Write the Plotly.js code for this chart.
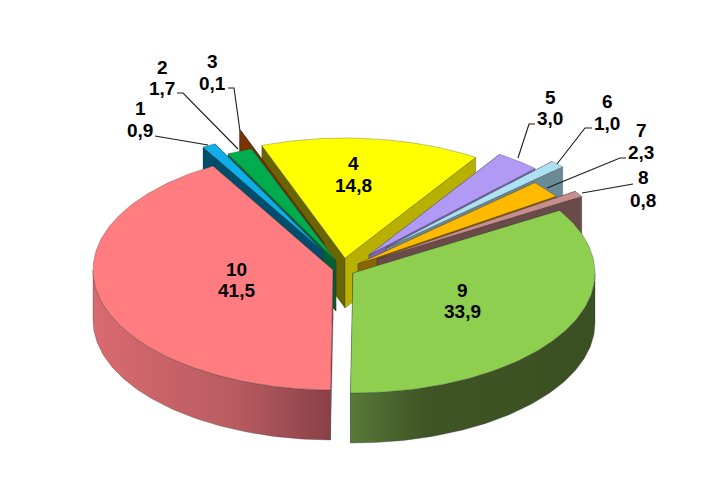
<!DOCTYPE html>
<html><head><meta charset="utf-8">
<script src="https://cdn.plot.ly/plotly-3.0.1.min.js"></script>
<style>html,body{margin:0;padding:0;background:#fff}#c{width:721px;height:484px}</style>
</head><body><div id="c"></div>
<script>
// ---- data ----
var sliceNames = ['1','2','3','4','5','6','7','8','9','10'];
var sliceValues = [0.9,1.7,0.1,14.8,3.0,1.0,2.3,0.8,33.9,41.5];
var valueLabels = ['0,9','1,7','0,1','14,8','3,0','1,0','2,3','0,8','33,9','41,5'];
// ---- styling ----
var topColors   = ['#10AEE8','#00AC4E','#7F3300','#FFFF00','#B09AF5','#AEE2F2','#FFBA00','#C78F8D','#8FCF50','#FF7C80'];
var startWalls  = ['#004E6B','#005F33','#7F3300','#6A6500','#6E5CA8','#6A8A98','#8C6600','#6B4A4A','#44602A','#A04C50'];
var endWalls    = ['#004E6B','#005F33','#7F3300','#B8B000','#7A64B8','#6A8A98','#8C6600','#6B4A4A','#44602A','#A04C50'];
var apexX = [323,336,324,345,369,386,358,377,353,333];
var apexY = [251,261,243,258,255,248,264,259,273,270];
var radiusX = [240,240,240,240,240,240,240,240,242,240];
var nameX  = [140,162,212,353,550,607,641,643,462,236];
var nameY  = [108,67,61,163,97,101,130,177,290,269];
var valueX = [140,162,212,353,550,607,641,643,462,236];
var valueY = [130,88,83,185,118,123,152,200,311,290];
var paintOrder = [3,2,1,0,9,4,5,6,7,8];
var rimGradients = {
  8:[[0,'#587A38'],[0.3,'#3F5525'],[1,'#3B5022']],
  9:[[0,'#D96A70'],[0.6,'#B85C60'],[1,'#8A4048']]
};
var leaders = [
  {x:[155,208],y:[136,145]},
  {x:[177,183,238],y:[93,93,149]},
  {x:[228,234,240],y:[88,88,131]},
  {x:[535,529,518],y:[124,124,158]},
  {x:[592,585,557],y:[128,128,164]},
  {x:[626,620,547],y:[158,158,188]},
  {x:[633,582],y:[184,193]}
];
var RY = 120, DEPTH = 50;
var traces = [];
function px(i,a){return apexX[i]+radiusX[i]*Math.sin(a*Math.PI/180);}
function py(i,a){return apexY[i]-RY*Math.cos(a*Math.PI/180);}
var edge = {width:0.5,color:'rgba(50,50,50,0.6)'};
function poly(xs,ys,col,grad){
  var t={type:'scatter',mode:'lines',x:xs.concat([xs[0]]),y:ys.concat([ys[0]]),fill:'toself',
    line:edge,hoverinfo:'skip',showlegend:false};
  if(grad) t.fillgradient=grad; else t.fillcolor=col;
  traces.push(t);
}
var total = sliceValues.reduce(function(a,b){return a+b;},0);
var starts=[],cum=330;
sliceValues.forEach(function(v){starts.push(cum);cum+=v/total*360;});
paintOrder.forEach(function(i){
  var a0=starts[i],a1=a0+sliceValues[i]/total*360;
  var ax=apexX[i],ay=apexY[i];
  // cut faces
  poly([ax,px(i,a0),px(i,a0),ax],[ay,py(i,a0),py(i,a0)+DEPTH,ay+DEPTH],startWalls[i]);
  poly([ax,px(i,a1),px(i,a1),ax],[ay,py(i,a1),py(i,a1)+DEPTH,ay+DEPTH],endWalls[i]);
  // outer rim: only the near half of the ellipse (90..270 deg, shifted by a full turn)
  var lo=Math.max(a0,450),hi=Math.min(a1,630);
  if(hi>lo){
    var xs=[],ys=[],xb=[],yb=[];
    for(var a=lo;a<hi;a+=1){xs.push(px(i,a));ys.push(py(i,a));xb.unshift(px(i,a));yb.unshift(py(i,a)+DEPTH);}
    xs.push(px(i,hi));ys.push(py(i,hi));xb.unshift(px(i,hi));yb.unshift(py(i,hi)+DEPTH);
    var l=Math.min.apply(null,xs),r=Math.max.apply(null,xs);
    poly(xs.concat(xb),ys.concat(yb),endWalls[i],{type:'horizontal',colorscale:rimGradients[i],start:l,stop:r});
  }
  // top face
  var tx=[ax],ty=[ay];
  for(var b=a0;b<a1;b+=1){tx.push(px(i,b));ty.push(py(i,b));}
  tx.push(px(i,a1));ty.push(py(i,a1));
  poly(tx,ty,topColors[i]);
});
leaders.forEach(function(l){
  traces.push({type:'scatter',mode:'lines',x:l.x,y:l.y,line:{color:'#1a1a1a',width:1.1},hoverinfo:'skip',showlegend:false});
});
var labelFont={family:'Liberation Sans, Arial, sans-serif',size:19,color:'#000',weight:700};
var annotations = [];
sliceNames.forEach(function(n,i){
  annotations.push({x:nameX[i],y:nameY[i],xref:'x',yref:'y',text:n,showarrow:false,font:labelFont});
  annotations.push({x:valueX[i],y:valueY[i],xref:'x',yref:'y',text:valueLabels[i],showarrow:false,font:labelFont});
});
Plotly.newPlot('c',traces,{
  width:721,height:484,margin:{l:0,r:0,t:0,b:0},paper_bgcolor:'#fff',plot_bgcolor:'#fff',showlegend:false,
  xaxis:{range:[0,721],visible:false,fixedrange:true},
  yaxis:{range:[484,0],visible:false,fixedrange:true},
  annotations:annotations
},{displayModeBar:false,staticPlot:true});
</script></body></html>
